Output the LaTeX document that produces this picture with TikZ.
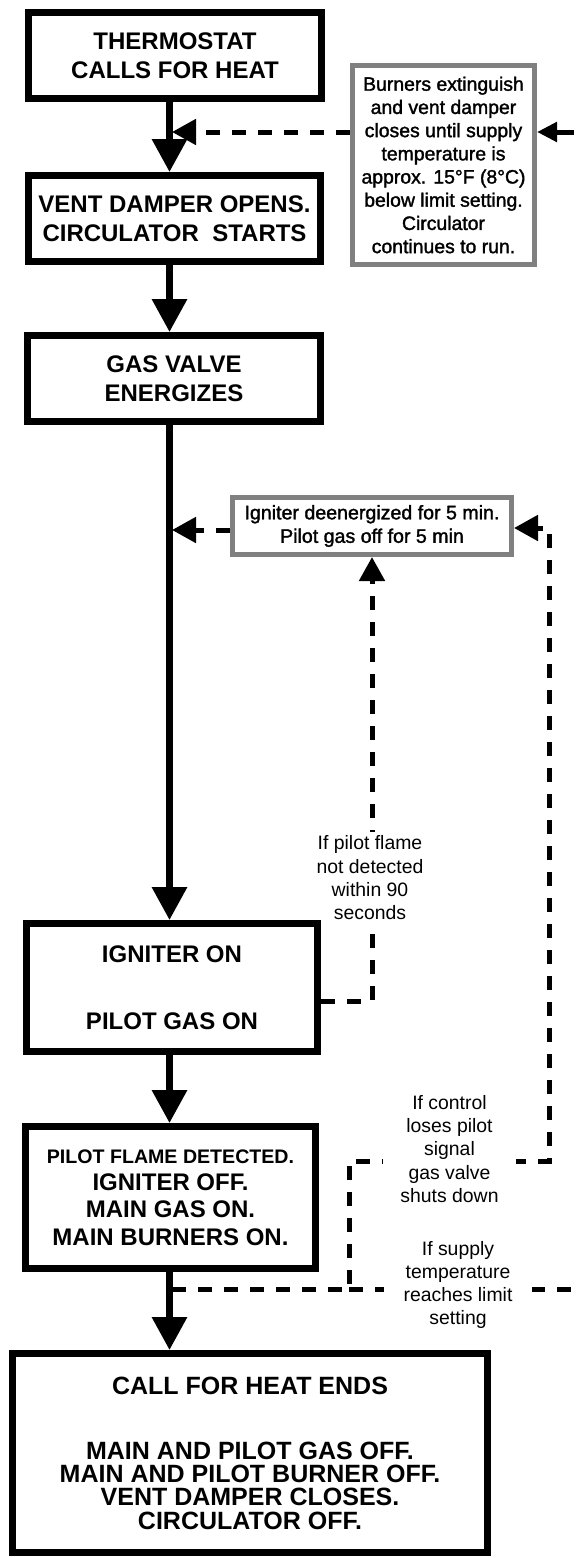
\documentclass[tikz,border=0pt]{standalone}
\usepackage{fontspec}
\setmainfont{Liberation Sans}
\newfontfamily\notefont[FakeBold=1.6]{Liberation Sans}
\usetikzlibrary{arrows.meta}
\pgfdeclarelayer{bgfill}
\pgfdeclarelayer{back}
\pgfsetlayers{bgfill,back,main}
\begin{document}
\begin{tikzpicture}[x=1pt,y=-1pt,
  mainbox/.style={draw=black, line width=7pt, fill=white, align=center,
    font=\bfseries\fontsize{24}{28.5}\selectfont, inner sep=0pt},
  notebox/.style={draw=black!50, line width=5pt, fill=white, align=center,
    font=\notefont\fontsize{19.4}{23.2}\selectfont, inner sep=0pt},
  cond/.style={fill=white, align=center, font=\fontsize{19.4}{23.3}\selectfont,
    inner xsep=0pt, inner ysep=4pt},
  flow/.style={line width=6.5pt, -{Triangle[length=33pt,width=34pt]}},
  dashline/.style={line width=5pt, dash pattern=on 14pt off 12pt},
  dasharrow/.style={dashline, -{Triangle[length=24pt,width=25pt]}},
  solidarrow/.style={line width=5pt, -{Triangle[length=20pt,width=19pt]}},
]
\begin{pgfonlayer}{bgfill}
\fill[white] (0,0) rectangle (582,1558);
\end{pgfonlayer}
\useasboundingbox (0,0) rectangle (582,1558);

% main flow boxes
\node[mainbox, minimum width=293pt, minimum height=86pt] (b1) at (175,55.5)
  {THERMOSTAT\\CALLS FOR HEAT};
\node[mainbox, minimum width=292pt, minimum height=86pt] (b2) at (174.5,218.5)
  {VENT DAMPER OPENS.\\CIRCULATOR\ \ STARTS};
\node[mainbox, minimum width=293pt, minimum height=86pt] (b3) at (174,378.5)
  {GAS VALVE\\ENERGIZES};
\node[mainbox, minimum width=291pt, minimum height=128pt] (b4) at (172,987.5)
  {IGNITER ON\\[39pt]PILOT GAS ON};
\node[mainbox, minimum width=290pt, minimum height=142pt,
  font=\bfseries\fontsize{24}{27.3}\selectfont] (b5) at (170.5,1197.5)
  {{\fontsize{19.6}{27.3}\selectfont PILOT FLAME DETECTED.}\\IGNITER OFF.\\MAIN GAS ON.\\MAIN BURNERS ON.};
\node[mainbox, minimum width=475pt, minimum height=199pt,
  font=\bfseries\fontsize{25}{23.2}\selectfont] (b6) at (250,1453)
  {CALL FOR HEAT ENDS\\[42pt]MAIN AND PILOT GAS OFF.\\MAIN AND PILOT BURNER OFF.\\VENT DAMPER CLOSES.\\CIRCULATOR OFF.};

% side notes
\node[notebox, minimum width=182pt, minimum height=199pt] (n1) at (443.5,165)
  {Burners extinguish\\and vent damper\\closes until supply\\temperature is\\approx. 15°F (8°C)\\below limit setting.\\Circulator\\continues to run.};
\node[notebox, minimum width=279pt, minimum height=57pt,
  font=\notefont\fontsize{19.6}{23.5}\selectfont] (n2) at (372,526)
  {Igniter deenergized for 5 min.\\Pilot gas off for 5 min};

% spine and turning points
\coordinate (s) at (169.5,0);
\coordinate (t1) at (172,132);
\coordinate (rt) at (574,132);
\coordinate (t2) at (172,530);
\coordinate (p1) at (372,1001);
\coordinate (q0) at (172,1289);
\coordinate (q1) at (349,1289);
\coordinate (q2) at (349,1161);
\coordinate (q3) at (549,1161);
\coordinate (q4) at (549,528);
\coordinate (q5) at (582,1289);

% main flow arrows
\draw[flow] (b1.south -| s) -- (b2.north -| s);
\draw[flow] (b2.south -| s) -- (b3.north -| s);
\draw[flow] (b3.south -| s) -- (b4.north -| s);
\draw[flow] (b4.south -| s) -- (b5.north -| s);
\draw[flow] (b5.south -| s) -- (b6.north -| s);

\begin{pgfonlayer}{back}
\draw[dasharrow] (n1.west |- t1) -- (t1);
\draw[solidarrow] (rt) -- (n1.east |- rt);
\draw[dasharrow] (n2.west |- t2) -- (t2);
\draw[dasharrow] (b4.east |- p1) -- (p1) -- (n2.south -| p1);
\draw[dasharrow] (q0) -- (q1) -- (q2) -- (q3) -- (q4) -- (n2.east |- q4);
\draw[dashline] (q1) -- (q5);
% condition labels
\node[cond] (l1) at (370,878) {If pilot flame\\not detected\\within 90\\seconds};
\node[cond, minimum width=133pt] (l2) at (449.5,1149)
  {If control\\loses pilot\\signal\\gas valve\\shuts down};
\node[cond, minimum width=148pt] (l3) at (458,1285)
  {If supply\\temperature\\reaches limit\\setting};
\end{pgfonlayer}
\end{tikzpicture}
\end{document}
